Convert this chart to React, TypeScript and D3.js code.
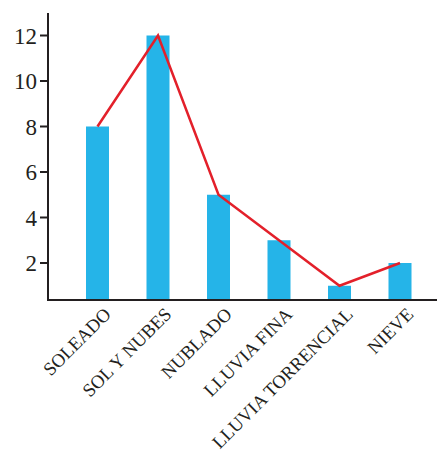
import React from "react";
import * as d3 from "d3";

const categories = ["SOLEADO", "SOL Y NUBES", "NUBLADO", "LLUVIA FINA", "LLUVIA TORRENCIAL", "NIEVE"];
const barValues = [8, 12, 5, 3, 1, 2];
const lineValues = [8, 12, 5, 3, 1, 2];
const yTicks = [2, 4, 6, 8, 10, 12];

const W = 437;
const H = 454;
const axisX = 48;
const axisY = 300;
const axisTop = 13;
const axisRight = 437;

export default function App() {
  const y = d3.scaleLinear().domain([0, 13]).range([308.5, 308.5 - 22.75 * 13]);
  const x = d3.scalePoint<string>().domain(categories).range([97.5, 400]);
  const barW = 23;
  const line = d3
    .line<number>()
    .x((_, i) => x(categories[i]) as number)
    .y((d) => y(d));
  const font = "'Liberation Serif', 'Times New Roman', serif";
  const axisColor = "#231f20";

  return (
    <svg
      width={W}
      height={H}
      style={{ position: "fixed", left: 0, top: 0, background: "#fff" }}
    >
      {categories.map((c, i) => (
        <rect
          key={c}
          x={(x(c) as number) - barW / 2}
          y={y(barValues[i])}
          width={barW}
          height={axisY - y(barValues[i])}
          fill="#25b4e8"
        />
      ))}
      <path d={line(lineValues) || ""} fill="none" stroke="#e3202a" strokeWidth={2.5} />
      <line x1={axisX} y1={axisTop} x2={axisX} y2={axisY} stroke={axisColor} strokeWidth={2} />
      <line x1={axisX - 1} y1={axisY} x2={axisRight} y2={axisY} stroke={axisColor} strokeWidth={2} />
      {yTicks.map((t) => (
        <g key={t}>
          <line x1={axisX - 8} x2={axisX} y1={y(t)} y2={y(t)} stroke={axisColor} strokeWidth={2} />
          <text
            x={37}
            y={y(t)}
            dy="0.35em"
            textAnchor="end"
            fontFamily={font}
            fontSize={23}
            fill={axisColor}
          >
            {t}
          </text>
        </g>
      ))}
      {categories.map((c) => {
        const ax = (x(c) as number) + 14.5;
        const ay = 315.5;
        return (
          <text
            key={c}
            x={ax}
            y={ay}
            transform={`rotate(-45 ${ax} ${ay})`}
            textAnchor="end"
            fontFamily={font}
            fontSize={18.6}
            fill={axisColor}
          >
            {c}
          </text>
        );
      })}
    </svg>
  );
}
